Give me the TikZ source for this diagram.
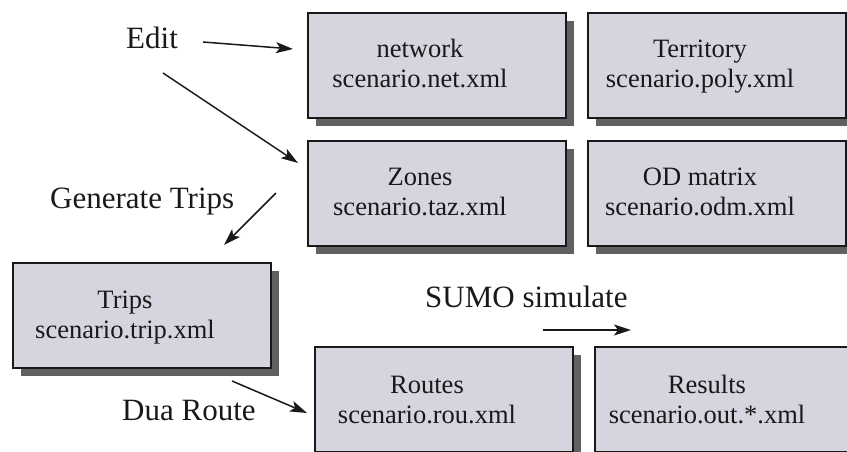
\documentclass[tikz,border=0pt]{standalone}
\usepackage{fontspec}
\setmainfont{Liberation Serif}
\usetikzlibrary{arrows.meta,shadows}
\definecolor{boxfill}{RGB}{213,212,223}
\definecolor{ink}{RGB}{25,25,25}
\begin{document}
\begin{tikzpicture}[x=1pt,y=-1pt,
  filebox/.style={draw=ink, line width=1.8pt, fill=boxfill,
    minimum width=258pt, minimum height=105pt, anchor=north west, inner sep=0pt,
    drop shadow={shadow xshift=8pt, shadow yshift=-8pt, fill=black!62, opacity=1}},
  ftxt/.style={anchor=base, inner sep=0pt, text=ink, font=\fontsize{26.5}{30}\selectfont},
  lbl/.style={anchor=base west, inner sep=0pt, text=ink, font=\fontsize{31}{36}\selectfont},
  arr/.style={draw=ink, line width=1.5pt, -{Stealth[length=17pt,width=11pt,inset=4pt]}}
]
\useasboundingbox (0,0) rectangle (847,451);

% boxes
\node[filebox] (net) at (307,12) {};
\node[filebox] (terr) at (587,12) {};
\node[filebox] (zones) at (307,140) {};
\node[filebox] (od) at (587,140) {};
\node[filebox] (trips) at (12,262) {};
\node[filebox] (routes) at (314,346) {};
\node[filebox] (results) at (594,346) {};

% box texts
\node[ftxt] (net1) at ([shift={(113,45)}]net.north west) {network};
\node[ftxt] (net2) at ([shift={(113,75)}]net.north west) {scenario.net.xml};
\node[ftxt] (terr1) at ([shift={(113,45)}]terr.north west) {Territory};
\node[ftxt] (terr2) at ([shift={(113,75)}]terr.north west) {scenario.poly.xml};
\node[ftxt] (zones1) at ([shift={(113,45)}]zones.north west) {Zones};
\node[ftxt] (zones2) at ([shift={(113,75)}]zones.north west) {scenario.taz.xml};
\node[ftxt] (od1) at ([shift={(113,45)}]od.north west) {OD matrix};
\node[ftxt] (od2) at ([shift={(113,75)}]od.north west) {scenario.odm.xml};
\node[ftxt] (trips1) at ([shift={(113,46)}]trips.north west) {Trips};
\node[ftxt] (trips2) at ([shift={(113,76)}]trips.north west) {scenario.trip.xml};
\node[ftxt] (routes1) at ([shift={(113,47)}]routes.north west) {Routes};
\node[ftxt] (routes2) at ([shift={(113,77)}]routes.north west) {scenario.rou.xml};
\node[ftxt] (results1) at ([shift={(113,47)}]results.north west) {Results};
\node[ftxt] (results2) at ([shift={(113,77)}]results.north west) {scenario.out.*.xml};

% labels
\node[lbl] (edit) at (126,48) {Edit};
\node[lbl] (gen) at (50,208) {Generate Trips};
\node[lbl] (dua) at (122,420) {Dua Route};
\node[lbl] (sumo) at (425,307) {SUMO simulate};

% arrows
\draw[arr] ([shift={(77,-6)}]edit.base west) -- ([shift={(-14,37)}]net.north west);
\draw[arr] ([shift={(37,25)}]edit.base west) -- ([shift={(-9,23)}]zones.north west);
\draw[arr] ([shift={(226,-15)}]gen.base west) -- ([shift={(212,-17)}]trips.north west);
\draw[arr] ([shift={(110,-39)}]dua.base west) -- ([shift={(-7,67)}]routes.north west);
\draw[arr] ([shift={(118,23)}]sumo.base west) -- ([shift={(206,23)}]sumo.base west);
\end{tikzpicture}
\end{document}
